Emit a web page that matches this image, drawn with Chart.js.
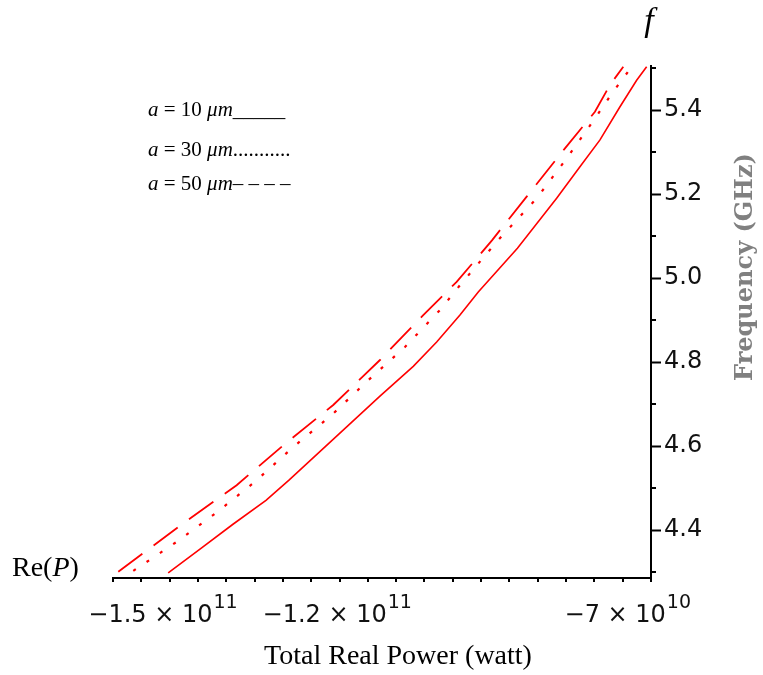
<!DOCTYPE html>
<html>
<head>
<meta charset="utf-8">
<script src="https://cdn.jsdelivr.net/npm/chart.js@4.4.1/dist/chart.umd.min.js"></script>
<style>
  html, body { margin: 0; padding: 0; background: #fff; }
  #wrap { width: 763px; height: 675px; position: relative; }
</style>
</head>
<body>
<div id="wrap"><canvas id="powerChart"></canvas></div>
<script>
// Total real power Re(P) in watt against frequency in GHz, one curve per radius a
const power10 = [-1.491e11, -1.4363e11, -1.3795e11, -1.3227e11, -1.2831e11, -1.1838e11, -1.1265e11, -1.0692e11, -1.0289e11,
                 -0.9888e11, -0.9573e11, -0.8899e11, -0.8224e11, -0.7823e11, -0.7478e11, -0.7134e11, -0.6847e11, -0.6675e11];
const freq10 = [4.298, 4.355, 4.414, 4.471, 4.519, 4.646, 4.719, 4.790, 4.848,
                4.912, 4.967, 5.071, 5.190, 5.265, 5.329, 5.408, 5.471, 5.503];

const power30 = [-1.5511e11, -1.4764e11, -1.4076e11, -1.3417e11, -1.2757e11, -1.2096e11, -1.1466e11, -1.0835e11,
                 -1.0232e11, -0.9888e11, -0.9234e11, -0.8568e11, -0.8052e11, -0.7565e11, -0.7250e11, -0.6933e11];
const freq30 = [4.303, 4.372, 4.442, 4.515, 4.598, 4.674, 4.757, 4.836,
                4.924, 4.983, 5.090, 5.190, 5.285, 5.380, 5.444, 5.503];

const power50 = [-1.5769e11, -1.4651e11, -1.3732e11, -1.2929e11, -1.2069e11, -1.1265e11, -1.0520e11,
                 -0.9945e11, -0.9337e11, -0.8740e11, -0.8081e11, -0.7565e11, -0.7306e11, -0.7077e11];
const freq50 = [4.301, 4.416, 4.507, 4.602, 4.698, 4.805, 4.912,
                4.991, 5.090, 5.194, 5.309, 5.396, 5.460, 5.503];

const radii = ['10', '30', '50'];
const legendTails = ['_____', '...........', '– – – –'];

const xRange = [-1.586e11, -6.6e10];
const yRange = [4.286, 5.505];
const xTickValues = [-1.5e11, -1.2e11, -7e10];
const xTickBase = ['−1.5 × 10', '−1.2 × 10', '−7 × 10'];
const xTickExp = ['11', '11', '10'];
const yTickValues = [4.4, 4.6, 4.8, 5.0, 5.2, 5.4];
const yTickLabels = ['4.4', '4.6', '4.8', '5.0', '5.2', '5.4'];

const RED = '#ff0000';
const TICK_FONT = '"DejaVu Sans", sans-serif';
const SERIF = '"Liberation Serif", "Times New Roman", serif';

const toPoints = (xs, ys) => xs.map((v, i) => ({ x: v, y: ys[i] }));
const near = (a, b, tol) => Math.abs(a - b) < tol;
const isMajorX = v => near(v / 1e10, Math.round(v / 1e10), 1e-6);
const isMajorY = v => near(v * 5, Math.round(v * 5), 1e-6);

// draws text pieces one after another, italic where flagged
function drawRuns(ctx, runs, x, y, size) {
    runs.forEach(([txt, italic]) => {
        ctx.font = (italic ? 'italic ' : '') + size + 'px ' + SERIF;
        ctx.fillText(txt, x, y);
        x += ctx.measureText(txt).width;
    });
    return x;
}

const decorations = {
    id: 'decorations',
    afterDraw(chart) {
        const { ctx, scales: { x, y } } = chart;
        ctx.save();

        // short minor ticks
        ctx.strokeStyle = '#000';
        ctx.lineWidth = 2;
        ctx.beginPath();
        x.ticks.forEach(t => {
            if (isMajorX(t.value) || t.value < x.min || t.value > x.max) return;
            const px = Math.round(x.getPixelForValue(t.value));
            ctx.moveTo(px, x.top);
            ctx.lineTo(px, x.top + 4);
        });
        y.ticks.forEach(t => {
            if (isMajorY(t.value) || t.value < y.min || t.value > y.max) return;
            const py = Math.round(y.getPixelForValue(t.value));
            ctx.moveTo(y.left, py);
            ctx.lineTo(y.left + 5, py);
        });
        ctx.stroke();

        // x tick labels with raised exponent
        ctx.fillStyle = '#111';
        ctx.textBaseline = 'alphabetic';
        ctx.textAlign = 'left';
        xTickValues.forEach((v, i) => {
            const px = x.getPixelForValue(v);
            ctx.font = '24px ' + TICK_FONT;
            const wBase = ctx.measureText(xTickBase[i]).width;
            ctx.font = '19px ' + TICK_FONT;
            const wExp = ctx.measureText(xTickExp[i]).width;
            const left = px - (wBase + wExp + 1) / 2;
            ctx.font = '24px ' + TICK_FONT;
            ctx.fillText(xTickBase[i], left, 622);
            ctx.font = '19px ' + TICK_FONT;
            ctx.fillText(xTickExp[i], left + wBase + 1, 608);
        });

        // axis names
        ctx.fillStyle = '#000';
        ctx.textAlign = 'center';
        ctx.font = 'italic 34px ' + SERIF;
        ctx.fillText('f', 649, 31);
        ctx.font = '28px ' + SERIF;
        ctx.fillText('Total Real Power (watt)', 398, 664);
        ctx.textAlign = 'left';
        drawRuns(ctx, [['Re(', false], ['P', true], [')', false]], 12, 576, 28);

        ctx.save();
        ctx.translate(746, 267);
        ctx.rotate(-Math.PI / 2);
        ctx.textAlign = 'center';
        ctx.textBaseline = 'middle';
        ctx.fillStyle = '#808080';
        ctx.font = 'bold 24px "DejaVu Serif", serif';
        ctx.fillText('Frequency (GHz)', 0, 0);
        ctx.restore();

        // legend rows
        const rowY = [116, 156, 190];
        radii.forEach((r, i) => {
            drawRuns(ctx, [['a', true], [' = ', false], [r, false], [' ', false], ['μm', true], [legendTails[i], false]], 148, rowY[i], 21);
        });

        ctx.restore();
    }
};

const ctx = document.getElementById('powerChart').getContext('2d');
new Chart(ctx, {
    type: 'line',
    data: {
        datasets: [
            { label: 'a = 10 μm', data: toPoints(power10, freq10), borderColor: RED, borderWidth: 1.6 },
            { label: 'a = 30 μm', data: toPoints(power30, freq30), borderColor: RED, borderWidth: 2.2, borderDash: [3, 13] },
            { label: 'a = 50 μm', data: toPoints(power50, freq50), borderColor: RED, borderWidth: 1.8, borderDash: [30, 14] }
        ]
    },
    options: {
        responsive: true,
        maintainAspectRatio: false,
        animation: false,
        elements: { point: { radius: 0 }, line: { tension: 0, fill: false } },
        layout: { padding: { left: 113, top: 66, right: 0, bottom: 0 } },
        plugins: { legend: { display: false }, tooltip: { enabled: false } },
        scales: {
            x: {
                type: 'linear',
                position: 'bottom',
                min: xRange[0],
                max: xRange[1],
                afterFit: s => { s.height = 97; },
                border: { display: true, color: '#000', width: 2 },
                grid: {
                    drawOnChartArea: false,
                    tickLength: 8,
                    tickWidth: 2,
                    tickColor: c => (c.tick && isMajorX(c.tick.value)) ? '#000' : 'rgba(0,0,0,0)'
                },
                ticks: {
                    stepSize: 5e9,
                    includeBounds: false,
                    autoSkip: false,
                    maxRotation: 0,
                    callback: () => ''
                }
            },
            y: {
                type: 'linear',
                position: 'right',
                min: yRange[0],
                max: yRange[1],
                afterFit: s => { s.width = 112; },
                border: { display: true, color: '#000', width: 2 },
                grid: {
                    drawOnChartArea: false,
                    tickLength: 10,
                    tickWidth: 2,
                    tickColor: c => (c.tick && isMajorY(c.tick.value)) ? '#000' : 'rgba(0,0,0,0)'
                },
                ticks: {
                    stepSize: 0.1,
                    includeBounds: false,
                    autoSkip: false,
                    padding: 3,
                    color: '#111',
                    font: { family: TICK_FONT, size: 24 },
                    callback: v => {
                        const i = yTickValues.findIndex(t => near(t, v, 1e-6));
                        return i >= 0 ? yTickLabels[i] : '';
                    }
                }
            }
        }
    },
    plugins: [decorations]
});
</script>
</body>
</html>
